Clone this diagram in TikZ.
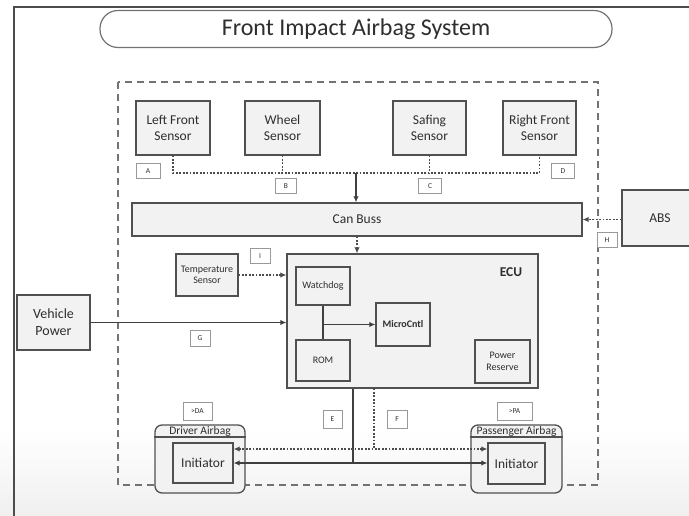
\documentclass[tikz,border=0pt]{standalone}
\usepackage{fontspec}
\setmainfont{Carlito}
\usetikzlibrary{arrows.meta}
\definecolor{boxfill}{HTML}{F2F2F2}
\definecolor{boxline}{HTML}{505050}
\definecolor{ink}{HTML}{2E2E2E}
\begin{document}
\begin{tikzpicture}[x=1pt,y=-1pt,
  box/.style={draw=boxline, fill=boxfill, line width=1.3pt, inner sep=1pt, align=center,
    text=ink, font=\fontsize{13.5}{16}\selectfont},
  smallbox/.style={box, font=\fontsize{10}{11.5}\selectfont},
  tag/.style={draw=black!40, fill=white, line width=0.8pt, inner sep=0pt,
    minimum width=21, minimum height=15, text=ink, font=\fontsize{7.5}{8}\selectfont},
  group/.style={draw=boxline, fill=boxfill, line width=1.3pt, rounded corners=7pt},
  wire/.style={draw=black!75, line width=1.6pt},
  dots/.style={draw=black!70, line width=1.5pt, dash pattern=on 1.7pt off 1.7pt},
  tip/.style={-{Latex[length=6pt,width=5.5pt]}},
  twotip/.style={{Latex[length=6pt,width=5.5pt]}-{Latex[length=6pt,width=5.5pt]}}
]
\useasboundingbox (0,0) rectangle (689,516);

% faint shading towards the lower edge
\fill[top color=white, bottom color=black!6] (0,430) rectangle (689,516);

% page frame and title banner
\draw[black!70, line width=1.5pt] (14,516) -- (14,7) -- (689,7);
\node[draw=black!55, fill=white, line width=1.2pt, rounded corners=18pt,
      minimum width=512, minimum height=37, text=ink,
      font=\fontsize{24}{27}\selectfont] (title) at (356,29) {Front Impact Airbag System};

% system boundary
\draw[black!55, line width=1.8pt, dash pattern=on 7pt off 5pt] (118,82) rectangle (598,485);

% sensors
\node[box, minimum width=74, minimum height=54] (lfs) at (173,128) {Left Front\\Sensor};
\node[box, minimum width=75, minimum height=54] (ws)  at (282.5,128) {Wheel\\Sensor};
\node[box, minimum width=73, minimum height=54] (ss)  at (429.5,128) {Safing\\Sensor};
\node[box, minimum width=73, minimum height=54] (rfs) at (539.5,128) {Right Front\\Sensor};

\node[tag, minimum width=24] (tA) at (148,171) {A};
\node[tag] (tB) at (286,186) {B};
\node[tag, minimum width=23] (tC) at (430,186) {C};
\node[tag, minimum width=23] (tD) at (563,171) {D};

% sensor bus
\coordinate (bus) at (356,173);
\draw[dots] (lfs.south) |- (bus) -| (rfs.south);
\draw[dots] (ws.south) -- (ws.south |- bus);
\draw[dots] (ss.south) -- (ss.south |- bus);

% CAN bus and ABS
\node[box, minimum width=450, minimum height=33] (can) at (357,219.5) {Can Buss};
\draw[wire, tip] (bus) -- (can.north -| bus);

\node[box, minimum width=76, minimum height=56] (abs) at (660,218) {ABS};
\node[tag, minimum width=20] (tH) at (607,240) {H};
\draw[dots, tip] (abs.west |- can.east) -- (can.east);

% ECU
\node[box, minimum width=251, minimum height=134] (ecu) at (412.5,321) {};
\node[text=ink, font=\bfseries\fontsize{13.5}{15}\selectfont] (ecut) at (511,272) {ECU};
\draw[dots, tip] (can.south) -- (can.south |- ecu.north);

\node[smallbox, minimum width=54, minimum height=38] (wd)  at (323,286) {Watchdog};
\node[smallbox, minimum width=54, minimum height=41] (rom) at (323,360.5) {ROM};
\node[smallbox, minimum width=54, minimum height=43, font=\bfseries\fontsize{10}{11.5}\selectfont] (mc) at (403,324.5) {MicroCntl};
\node[smallbox, minimum width=55, minimum height=43] (pr)  at (502.5,361.5) {Power\\Reserve};

\draw[wire] (wd.south) -- (rom.north);
\draw[wire, tip] (wd.south |- mc.west) -- (mc.west);

% temperature sensor
\node[smallbox, minimum width=62, minimum height=42] (temp) at (207,275) {Temperature\\Sensor};
\node[tag, minimum width=20] (tI) at (260,256) {I};
\draw[dots, tip] (temp.east) -- (temp.east -| ecu.west);

% vehicle power
\node[box, minimum width=73, minimum height=55, font=\fontsize{14}{17}\selectfont] (vp) at (53.5,322.5) {Vehicle\\Power};
\node[tag, minimum width=20, minimum height=16] (tG) at (200,338) {G};
\draw[wire, tip] (vp.east) -- (vp.east -| ecu.west);

% airbags
\node[group, minimum width=90, minimum height=68] (da) at (200,459) {};
\draw[boxline, line width=1.1pt] (da.west |- 0,437) -- (da.east |- 0,437);
\node[text=ink, font=\fontsize{11.5}{12}\selectfont, inner sep=0pt] (dat) at (200,431) {Driver Airbag};
\node[box, minimum width=60, minimum height=40] (di) at (203,463) {Initiator};

\node[group, minimum width=91, minimum height=68] (pa) at (516.5,459) {};
\draw[boxline, line width=1.1pt] (pa.west |- 0,437) -- (pa.east |- 0,437);
\node[text=ink, font=\fontsize{11.5}{12}\selectfont, inner sep=0pt] (pat) at (516.5,431) {Passenger Airbag};
\node[box, minimum width=57, minimum height=41] (pi) at (516.5,463.5) {Initiator};

\node[tag, minimum width=29, minimum height=18] (tDA) at (197.5,411) {>DA};
\node[tag, minimum width=35, minimum height=18] (tPA) at (514.5,411) {>PA};
\node[tag, minimum width=19, minimum height=18] (tE) at (332.5,419) {E};
\node[tag, minimum width=20, minimum height=18] (tF) at (397,419) {F};

% firing lines from the ECU
\coordinate (fs) at (353,463);
\coordinate (fd) at (374,449);
\draw[wire] (fs |- ecu.south) -- (fs);
\draw[dots] (fd |- ecu.south) -- (fd);
\draw[wire, twotip] (di.east |- fs) -- (pi.west |- fs);
\draw[dots, twotip] (di.east |- fd) -- (pi.west |- fd);
\end{tikzpicture}
\end{document}
